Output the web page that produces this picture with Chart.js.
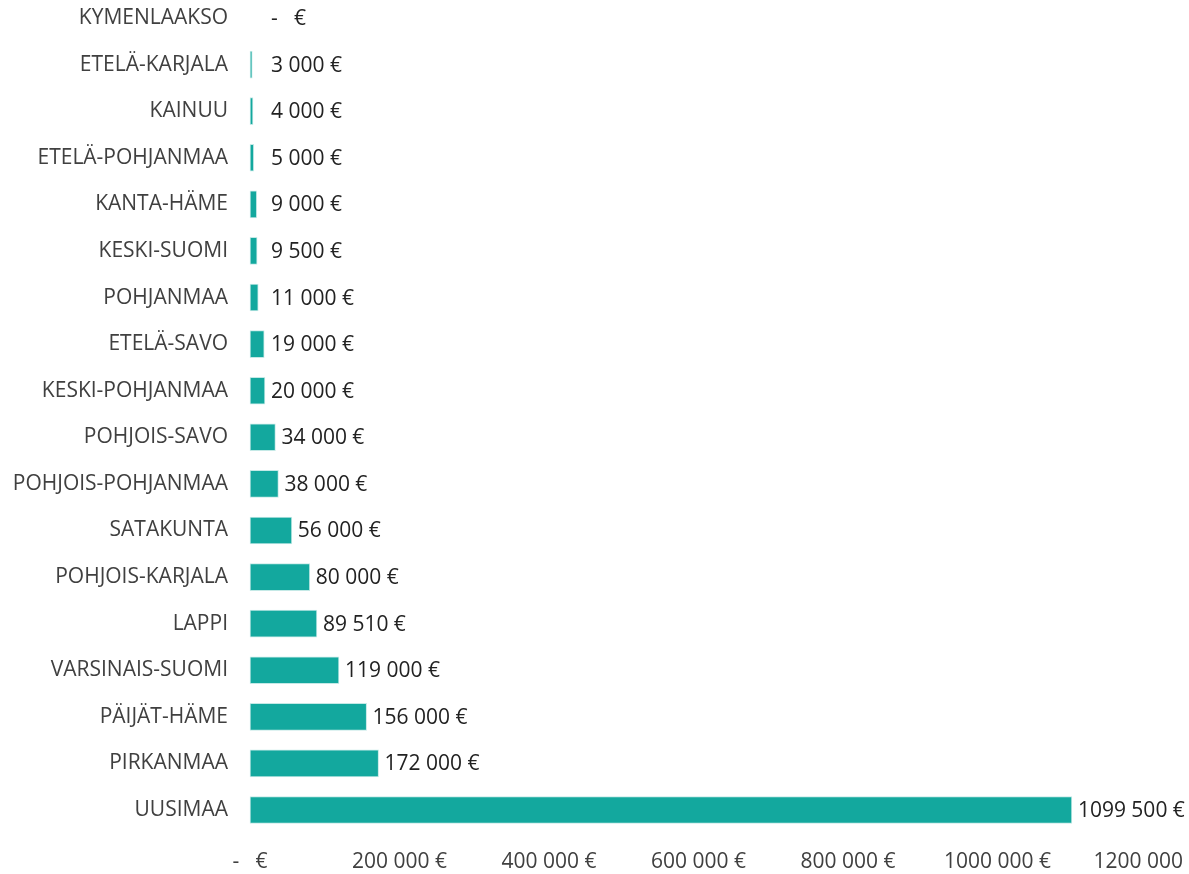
<!DOCTYPE html>
<html>
<head>
<meta charset="utf-8">
<script src="https://cdn.jsdelivr.net/npm/chart.js@4"></script>
<style>
  html, body { margin: 0; padding: 0; background: #fff; }
  #wrap { width: 1189px; height: 874px; }
</style>
</head>
<body>
<div id="wrap"><canvas id="chart" width="1189" height="874"></canvas></div>
<script>
// regions, top to bottom as in the picture
const regions = [
  'KYMENLAAKSO', 'ETELÄ-KARJALA', 'KAINUU', 'ETELÄ-POHJANMAA', 'KANTA-HÄME',
  'KESKI-SUOMI', 'POHJANMAA', 'ETELÄ-SAVO', 'KESKI-POHJANMAA', 'POHJOIS-SAVO',
  'POHJOIS-POHJANMAA', 'SATAKUNTA', 'POHJOIS-KARJALA', 'LAPPI',
  'VARSINAIS-SUOMI', 'PÄIJÄT-HÄME', 'PIRKANMAA', 'UUSIMAA'
];
const amounts = [
  0, 3000, 4000, 5000, 9000,
  9500, 11000, 19000, 20000, 34000,
  38000, 56000, 80000, 89510,
  119000, 156000, 172000, 1099500
];
const xTickLabels = ['-   €', '200 000 €', '400 000 €', '600 000 €', '800 000 €', '1000 000 €', '1200 000 €'];

const FONT = '"Open Sans", "Liberation Sans", sans-serif';

function euro(n) {
  if (n === 0) return '-   €';
  const th = Math.floor(n / 1000);
  const rest = String(n % 1000).padStart(3, '0');
  return th > 0 ? `${th} ${rest} €` : `${n % 1000} €`;
}

// value labels next to the bar ends
const barLabels = {
  id: 'barLabels',
  afterDatasetsDraw(chart) {
    const ctx = chart.ctx;
    const meta = chart.getDatasetMeta(0);
    ctx.save();
    ctx.font = '21px ' + FONT;
    ctx.fillStyle = '#222';
    ctx.textBaseline = 'middle';
    ctx.textAlign = 'left';
    meta.data.forEach((bar, i) => {
      const x = Math.max(bar.x + 6, chart.chartArea.left + 21);
      ctx.fillText(euro(amounts[i]), x, bar.y + 1);
    });
    ctx.restore();
  }
};

new Chart(document.getElementById('chart'), {
  type: 'bar',
  data: {
    labels: regions,
    datasets: [{
      data: amounts,
      backgroundColor: '#13A89E',
      borderColor: '#c4e9e6',
      borderWidth: 1,
      borderSkipped: false,
      barThickness: 27,
      clip: false
    }]
  },
  options: {
    indexAxis: 'y',
    responsive: false,
    animation: false,
    layout: { padding: { top: 18, right: 42, bottom: 0, left: 0 } },
    plugins: {
      legend: { display: false },
      tooltip: { enabled: false }
    },
    scales: {
      y: {
        offset: false,
        grid: { display: false },
        border: { display: false },
        ticks: {
          color: '#404040',
          font: { family: FONT, size: 21 },
          padding: 14,
          autoSkip: false
        },
        afterFit(scale) {
          scale.width = 250;
          scale.paddingTop = 0;
          scale.paddingBottom = 0;
        }
      },
      x: {
        min: 0,
        max: 1200000,
        grid: { display: false, drawTicks: false },
        border: { display: false },
        ticks: {
          stepSize: 200000,
          color: '#404040',
          font: { family: FONT, size: 21 },
          padding: 39,
          maxRotation: 0,
          autoSkip: false,
          callback: (v) => xTickLabels[Math.round(v / 200000)]
        },
        afterFit(scale) {
          scale.height = 64;
          scale.paddingLeft = 0;
          scale.paddingRight = 0;
        }
      }
    }
  },
  plugins: [barLabels]
});
</script>
</body>
</html>
